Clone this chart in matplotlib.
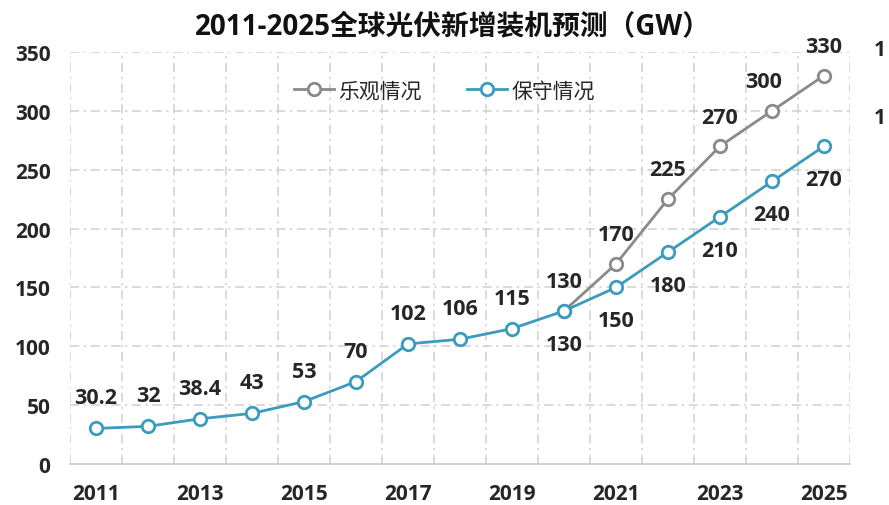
import matplotlib
matplotlib.use("Agg")
import matplotlib.pyplot as plt

# data
years = [2011, 2012, 2013, 2014, 2015, 2016, 2017, 2018, 2019, 2020,
         2021, 2022, 2023, 2024, 2025]
conservative = [30.2, 32, 38.4, 43, 53, 70, 102, 106, 115, 130,
                150, 180, 210, 240, 270]
opt_years = [2020, 2021, 2022, 2023, 2024, 2025]
optimistic = [130, 170, 225, 270, 300, 330]
xticks = [2011, 2013, 2015, 2017, 2019, 2021, 2023, 2025]
yticks = [0, 50, 100, 150, 200, 250, 300, 350]

title = "2011-2025全球光伏新增装机预测（GW）"
labels = ["乐观情况", "保守情况"]

plt.rcParams["font.family"] = ["Open Sans", "Noto Sans CJK SC", "DejaVu Sans"]

GRAY = "#8a8a8a"
BLUE = "#3b9bbd"
TXT = "#262626"
GRID = "#cfcfcf"

fig = plt.figure(figsize=(8.89, 5.06), dpi=100)
ax = fig.add_axes([70 / 889, 1 - 465 / 506, 780 / 889, 412 / 506])

dashdot = (0, (6, 3, 1.5, 3))
for y in yticks[1:]:
    ax.axhline(y, color=GRID, lw=1.1, ls=dashdot, zorder=0)
for i in range(len(years) + 1):
    ax.axvline(years[0] - 0.5 + i, color=GRID, lw=1.1, ls=dashdot, zorder=0)

mk = dict(marker="o", markersize=9, markerfacecolor="white", markeredgewidth=2)
ax.plot(opt_years, optimistic, color=GRAY, lw=2, label=labels[0],
        markeredgecolor=GRAY, zorder=3, **mk)
ax.plot(years, conservative, color=BLUE, lw=2, label=labels[1],
        markeredgecolor=BLUE, zorder=4, **mk)

lab = dict(ha="center", va="center", fontsize=15.5, fontweight="bold", color=TXT)
for x, v in zip(opt_years, optimistic):
    dx = -6 if x == 2024 else 0
    ax.annotate(f"{v:g}", (x, v), xytext=(dx, 21), textcoords="offset points", **lab)
for x, v in zip(years, conservative):
    dy = 22 if x < 2020 else -24
    ax.annotate(f"{v:g}", (x, v), xytext=(0, dy), textcoords="offset points", **lab)

ax.set_xlim(years[0] - 0.5, years[-1] + 0.5)
ax.set_ylim(0, 350)
ax.set_xticks(xticks)
ax.set_yticks(yticks)
for s in ["top", "right", "left"]:
    ax.spines[s].set_visible(False)
ax.spines["bottom"].set_color("#c8c8c8")
ax.spines["bottom"].set_linewidth(1.2)
ax.tick_params(length=0, labelsize=15, labelcolor=TXT)
ax.tick_params(axis="x", pad=14)
ax.tick_params(axis="y", pad=14)
for t in ax.get_xticklabels() + ax.get_yticklabels():
    t.set_fontweight("bold")

leg = ax.legend(loc="center", bbox_to_anchor=(0.48, 0.905), ncol=2, frameon=False,
                fontsize=15, handlelength=1.9, columnspacing=2.2, handletextpad=0.2)
for t in leg.get_texts():
    t.set_color(TXT)

fig.text(453 / 889, 1 - 28 / 506, title, ha="center", va="center",
         fontsize=20, fontweight="bold", color="#111111")
# fragments of a neighbouring chart at the right edge
fig.text(886 / 889, 1 - 50 / 506, "1", ha="right", va="center", fontsize=15,
         fontweight="bold", color=TXT)
fig.text(886 / 889, 1 - 118 / 506, "1", ha="right", va="center", fontsize=15,
         fontweight="bold", color=TXT)

fig.savefig("out.png", dpi=100)
